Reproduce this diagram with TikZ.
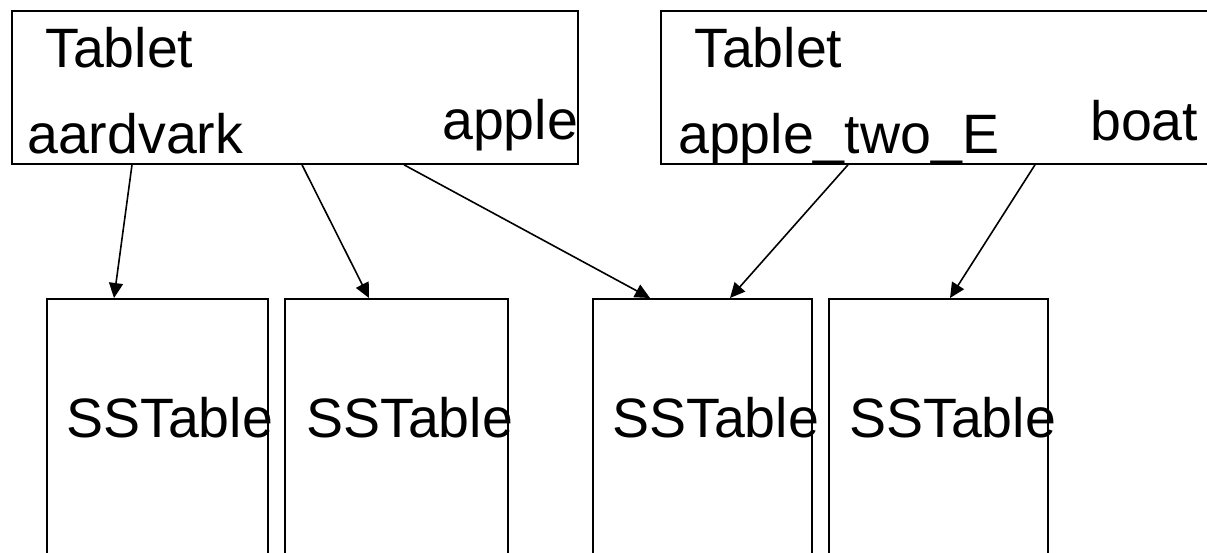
\documentclass[tikz,border=0pt]{standalone}
\usepackage{fontspec}
\setmainfont{Liberation Sans}
\usetikzlibrary{arrows.meta}
\begin{document}
\begin{tikzpicture}[x=1pt,y=-1pt,
  box/.style={draw=black,line width=1.8pt,anchor=north west,inner sep=0pt},
  lbl/.style={anchor=base west,inner sep=0pt,font=\fontsize{55.5}{60}\selectfont},
  arr/.style={line width=1.6pt,-{Triangle[length=15pt,width=14pt]}}]
\useasboundingbox (0,0) rectangle (1207,552);
\clip (0,0) rectangle (1207,552);
% tablets
\node[box,minimum width=566pt,minimum height=153pt] (t1) at (11,10) {};
\node[box,minimum width=600pt,minimum height=153pt] (t2) at (660,10) {};
% sstables
\node[box,minimum width=221pt,minimum height=300pt] (s1) at (46,298) {};
\node[box,minimum width=223pt,minimum height=300pt] (s2) at (284,298) {};
\node[box,minimum width=219pt,minimum height=300pt] (s3) at (592,298) {};
\node[box,minimum width=219pt,minimum height=300pt] (s4) at (828,298) {};
% texts
\node[lbl] (t1a) at (45,67) {Tablet};
\node[lbl] (t1b) at (27,153) {aardvark};
\node[lbl] (t1c) at (442,139) {apple};
\node[lbl] (t2a) at (694,67) {Tablet};
\node[lbl] (t2b) at (678,153) {apple\_two\_E};
\node[lbl] (t2c) at (1090,140) {boat};
\node[lbl] (s1t) at (66,437) {SSTable};
\node[lbl] (s2t) at (306,437) {SSTable};
\node[lbl] (s3t) at (612,437) {SSTable};
\node[lbl] (s4t) at (849,437) {SSTable};
% arrows
\draw[arr] ([xshift=121pt]t1.south west) -- ([xshift=68pt]s1.north west);
\draw[arr] ([xshift=291pt]t1.south west) -- ([xshift=85pt]s2.north west);
\draw[arr] ([xshift=393pt]t1.south west) -- ([xshift=58pt]s3.north west);
\draw[arr] ([xshift=188pt]t2.south west) -- ([xshift=138pt]s3.north west);
\draw[arr] ([xshift=375pt]t2.south west) -- ([xshift=122pt]s4.north west);
\end{tikzpicture}
\end{document}
